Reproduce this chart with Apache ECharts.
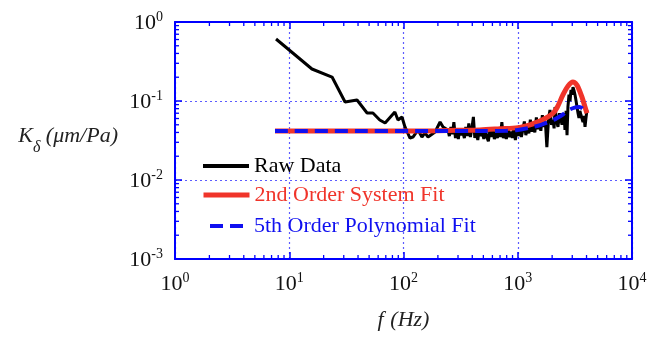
<!DOCTYPE html>
<html lang="en" style="height: 100%">
<head>
  <meta charset="utf-8">
</head>
<body style="height: 100%; margin: 0; background: #fff">
  <div id="container" style="width: 662px; height: 337px"></div>
  <script type="text/javascript" src="https://cdn.jsdelivr.net/npm/echarts@6.0.0/dist/echarts.min.js"></script>
  <script type="text/javascript">
// raw measurement: frequency (Hz) and sensitivity (um/Pa)
var rawFreq = [7.66, 15.8, 23.7, 30.8, 39.2, 48, 54, 62, 69, 84, 89.5, 97, 103, 114, 121, 134, 145, 154, 164, 189,
  209, 222, 245, 252, 260, 268, 276, 285, 293, 302, 311, 321, 331, 341, 351, 362, 373, 385, 396, 409, 421, 434,
  447, 461, 475, 490, 505, 520, 536, 553, 570, 587, 605, 624, 643, 663, 683, 704, 726, 748, 771, 795, 819, 844,
  870, 897, 925, 953, 982, 1012, 1043, 1075, 1108, 1142, 1177, 1213, 1251, 1289, 1329, 1369, 1411, 1455, 1499, 1545,
  1593, 1642, 1692, 1744, 1798, 1860, 1915, 1975, 2035, 2080, 2120, 2190, 2250, 2320, 2395, 2440, 2490, 2540, 2590,
  2650, 2700, 2750, 2810, 2870, 2925, 2990, 3045, 3110, 3170, 3240, 3300, 3370, 3435, 3500, 3580, 3650, 3725, 3800,
  3880, 3950, 4035];
var rawK = [0.609, 0.254, 0.201, 0.097, 0.103, 0.0705, 0.0705, 0.0575, 0.0527, 0.0726, 0.0575, 0.0627, 0.0469, 0.034, 0.035, 0.043, 0.035, 0.0394, 0.035, 0.0405,
  0.0542, 0.0469, 0.043, 0.036, 0.047, 0.038, 0.054, 0.034, 0.041, 0.033, 0.045, 0.037, 0.040, 0.034, 0.047, 0.036, 0.052, 0.035, 0.044, 0.063, 0.034, 0.041,
  0.032, 0.045, 0.036, 0.040, 0.033, 0.044, 0.035, 0.031, 0.042, 0.035, 0.046, 0.033, 0.039, 0.034, 0.043, 0.035, 0.054, 0.034, 0.040, 0.033, 0.047, 0.035,
  0.041, 0.034, 0.046, 0.032, 0.044, 0.036, 0.049, 0.035, 0.043, 0.055, 0.037, 0.046, 0.039, 0.058, 0.041, 0.050, 0.040, 0.062, 0.044, 0.052,
  0.042, 0.066, 0.047, 0.055, 0.026, 0.060, 0.077, 0.050, 0.058, 0.045, 0.084, 0.055, 0.047, 0.070, 0.057, 0.050, 0.058, 0.070, 0.043,
  0.075, 0.037, 0.085, 0.120, 0.100, 0.138, 0.120, 0.150, 0.135, 0.120, 0.100, 0.084, 0.070, 0.061, 0.075, 0.066, 0.060, 0.054, 0.065,
  0.047, 0.060, 0.077];

// 2nd order system fit
var sysFreq = [7.5, 100, 200, 300, 467, 700, 1000, 1280, 1480, 1735, 2035, 2205, 2490, 2755, 3045, 3200, 3370, 3650, 3880, 4035];
var sysK = [0.0417, 0.0418, 0.042, 0.0425, 0.043, 0.0445, 0.046, 0.05, 0.054, 0.06, 0.07, 0.082, 0.12, 0.155, 0.174, 0.168, 0.15, 0.112, 0.084, 0.07];

// 5th order polynomial fit
var polyFreq = [7.5, 500, 800, 1000, 1280, 1600, 2035, 2500, 2800, 3200, 3450, 3700, 3880];
var polyK = [0.0417, 0.0417, 0.042, 0.043, 0.046, 0.05, 0.057, 0.068, 0.077, 0.083, 0.084, 0.08, 0.072];

var seriesNames = ['Raw Data', '2nd Order System Fit', '5th Order Polynomial Fit'];

// minor tick values for the log axes
var xMinor = [2, 3, 4, 5, 6, 7, 8, 9, 20, 30, 40, 50, 60, 70, 80, 90,
  200, 300, 400, 500, 600, 700, 800, 900, 2000, 3000, 4000, 5000, 6000, 7000, 8000, 9000];
var yMinor = [0.002, 0.003, 0.004, 0.005, 0.006, 0.007, 0.008, 0.009, 0.02, 0.03, 0.04, 0.05, 0.06, 0.07, 0.08, 0.09,
  0.2, 0.3, 0.4, 0.5, 0.6, 0.7, 0.8, 0.9];
var xMin = 1, xMax = 10000, yMin = 0.001, yMax = 1;

function zip(a, b) {
  return a.map(function (v, i) { return [v, b[i]]; });
}

var serif = 'Liberation Serif';
var axisBlue = '#0000ff';
var gridBlue = '#5c5cff';
var minorLen = 4;

function powLabel(v) {
  var e = Math.round(Math.log10(v));
  return '{b|10}{s|' + e + '}';
}
var labelRich = {
  b: { fontFamily: serif, fontSize: 22, color: '#111', verticalAlign: 'bottom' },
  s: { fontFamily: serif, fontSize: 14, color: '#111', verticalAlign: 'bottom', padding: [0, 0, 10, 0] }
};

function frameAxis(pos, extra) {
  var ax = {
    type: 'log',
    logBase: 10,
    position: pos,
    axisLine: { show: true, lineStyle: { color: axisBlue, width: 2 } },
    axisTick: { show: true, inside: true, length: 7, lineStyle: { color: axisBlue, width: 1.5 } },
    splitLine: { show: false },
    axisLabel: { show: false }
  };
  return Object.assign(ax, extra);
}

function tickLine(x1, y1, x2, y2) {
  return { type: 'line', shape: { x1: x1, y1: y1, x2: x2, y2: y2 }, style: { stroke: axisBlue, lineWidth: 1.3 } };
}

var dom = document.getElementById('container');
var myChart = echarts.init(dom, null, { renderer: 'canvas' });

var legendBase = {
  orient: 'horizontal',
  left: 201,
  padding: 0,
  itemWidth: 46,
  itemHeight: 14,
  selectedMode: false,
  itemStyle: { opacity: 0 }
};

var option = {
  animation: false,
  backgroundColor: '#fff',
  grid: { left: 175, right: 30, top: 22, bottom: 78, containLabel: false },
  legend: [
    Object.assign({}, legendBase, {
      top: 155, data: [seriesNames[0]],
      lineStyle: { width: 4 },
      textStyle: { fontFamily: serif, fontSize: 22, color: '#000' }
    }),
    Object.assign({}, legendBase, {
      top: 184, data: [seriesNames[1]],
      lineStyle: { width: 5 },
      textStyle: { fontFamily: serif, fontSize: 22, color: '#f0342a' }
    }),
    Object.assign({}, legendBase, {
      top: 215, data: [seriesNames[2]],
      lineStyle: { width: 4, type: [13, 7], dashOffset: 13 },
      textStyle: { fontFamily: serif, fontSize: 22, color: '#1010f0' }
    })
  ],
  xAxis: [
    frameAxis('bottom', {
      min: xMin, max: xMax,
      splitLine: { show: true, lineStyle: { color: gridBlue, width: 1.2, type: [2, 3] } },
      axisLabel: { show: true, formatter: powLabel, rich: labelRich, margin: 12 },
      name: '{i|f}  {i|(Hz)}',
      nameLocation: 'middle',
      nameGap: 50,
      nameTextStyle: { rich: { i: { fontFamily: serif, fontSize: 22, fontStyle: 'italic', color: '#222' } } }
    }),
    frameAxis('top', { min: xMin, max: xMax })
  ],
  yAxis: [
    frameAxis('left', {
      min: yMin, max: yMax,
      splitLine: { show: true, lineStyle: { color: gridBlue, width: 1.2, type: [2, 3] } },
      axisLabel: { show: true, formatter: powLabel, rich: labelRich, margin: 12 },
      name: '{k|K}{d|δ}{u| (μm/Pa)}',
      nameLocation: 'middle',
      nameRotate: 0,
      nameGap: 57,
      nameTextStyle: {
        rich: {
          k: { fontFamily: serif, fontSize: 22, fontStyle: 'italic', color: '#222', verticalAlign: 'bottom', padding: [0, 0, 8, 0] },
          d: { fontFamily: serif, fontSize: 16, fontStyle: 'italic', color: '#222', verticalAlign: 'bottom' },
          u: { fontFamily: serif, fontSize: 22, fontStyle: 'italic', color: '#222', verticalAlign: 'bottom', padding: [0, 0, 8, 0] }
        }
      }
    }),
    frameAxis('right', { min: yMin, max: yMax })
  ],
  series: [
    {
      name: seriesNames[0], type: 'line', symbol: 'none',
      data: zip(rawFreq, rawK),
      lineStyle: { color: '#000', width: 3 },
      itemStyle: { color: '#000' },
      z: 2
    },
    {
      name: seriesNames[1], type: 'line', symbol: 'none', smooth: 0.3,
      data: zip(sysFreq, sysK),
      lineStyle: { color: '#f0342a', width: 5 },
      itemStyle: { color: '#f0342a' },
      z: 3
    },
    {
      name: seriesNames[2], type: 'line', symbol: 'none', smooth: 0.3,
      data: zip(polyFreq, polyK),
      lineStyle: { color: '#1010f0', width: 4, type: [13, 7] },
      itemStyle: { color: '#1010f0' },
      z: 4
    },
    {
      // minor ticks on bottom and top frame
      type: 'custom', silent: true, clip: false, z: 5,
      data: xMinor.map(function (v) { return [v, yMin]; }),
      renderItem: function (params, api) {
        var b = api.coord([api.value(0), yMin]);
        var t = api.coord([api.value(0), yMax]);
        return { type: 'group', children: [
          tickLine(b[0], b[1], b[0], b[1] - minorLen),
          tickLine(t[0], t[1], t[0], t[1] + minorLen)
        ] };
      }
    },
    {
      // minor ticks on left and right frame
      type: 'custom', silent: true, clip: false, z: 5,
      data: yMinor.map(function (v) { return [xMin, v]; }),
      renderItem: function (params, api) {
        var l = api.coord([xMin, api.value(1)]);
        var r = api.coord([xMax, api.value(1)]);
        return { type: 'group', children: [
          tickLine(l[0], l[1], l[0] + minorLen, l[1]),
          tickLine(r[0], r[1], r[0] - minorLen, r[1])
        ] };
      }
    }
  ]
};

myChart.setOption(option);
window.addEventListener('resize', myChart.resize);
  </script>
</body>
</html>
